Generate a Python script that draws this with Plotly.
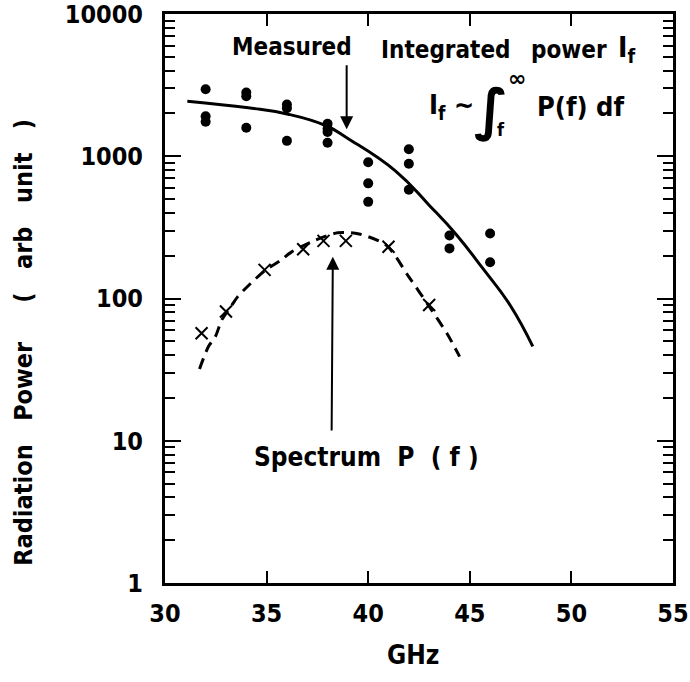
import plotly.graph_objects as go

# ---- data ----
meas_ghz = [32, 32, 32, 34, 34, 34, 36, 36, 36, 38, 38, 38, 38,
            40, 40, 40, 42, 42, 42, 44, 44, 46, 46]
meas_pow = [2960, 1910, 1750, 2810, 2640, 1585, 2310, 2175, 1283, 1690, 1560, 1480, 1244,
            907, 645, 478, 1120, 885, 581, 277, 225, 286, 180]

spec_pts_ghz = [31.8, 33.0, 34.9, 36.8, 37.8, 38.9, 41.0, 43.0]
spec_pts_pow = [57, 81, 159, 222, 254, 254, 231, 90]

integ_curve_ghz = [31.1, 34.1, 36.06, 37.9, 39.0, 41.35, 43.0, 44.33, 45.65, 47.0, 48.1]
integ_curve_pow = [2440, 2190, 1976, 1645, 1333, 787, 453, 282, 162, 89, 46]

spec_curve_ghz = [31.7, 32.14, 32.48, 32.8, 33.25, 33.58, 34.2, 34.94, 35.68, 36.2, 37.2,
                  38.5, 39.55, 40.9, 42.0, 43.0, 43.9, 44.5]
spec_curve_pow = [32, 46, 54, 71, 88, 103, 127, 158, 185, 211, 250,
                  290, 284, 236, 142, 88, 56, 39]

x_ticks = [30, 35, 40, 45, 50, 55]
y_ticks = [1, 10, 100, 1000, 10000]
y_ticktext = ["1", "10", "100", "1000", "10000"]
y_minor = [d * k for d in (1, 10, 100, 1000) for k in range(2, 10)]

FONT = "DejaVu Sans Condensed, DejaVu Sans, sans-serif"

fig = go.Figure()
fig.add_trace(go.Scatter(x=integ_curve_ghz, y=integ_curve_pow, mode="lines",
                         line=dict(color="black", width=3, shape="spline", smoothing=1.3),
                         showlegend=False, hoverinfo="skip"))
fig.add_trace(go.Scatter(x=spec_curve_ghz, y=spec_curve_pow, mode="lines",
                         line=dict(color="black", width=3, shape="spline", smoothing=0.8,
                                   dash="11px,7px"),
                         showlegend=False, hoverinfo="skip"))
fig.add_trace(go.Scatter(x=meas_ghz, y=meas_pow, mode="markers",
                         marker=dict(color="black", size=10, symbol="circle"),
                         showlegend=False))
fig.add_trace(go.Scatter(x=spec_pts_ghz, y=spec_pts_pow, mode="markers",
                         marker=dict(color="black", size=12, symbol="x-thin-open",
                                     line=dict(color="black", width=2)),
                         showlegend=False))
# helper trace for the minor-tick axis
fig.add_trace(go.Scatter(x=[30], y=[1], yaxis="y2", mode="markers",
                         marker=dict(opacity=0), showlegend=False, hoverinfo="skip"))

txt = dict(family=FONT, size=24, color="black", weight="bold")
NB = "&nbsp;"

# arrows (log axis: annotation y in log10 units)
fig.add_annotation(x=38.94, y=3.19, ax=38.94, ay=3.65, xref="x", yref="y",
                   axref="x", ayref="y", showarrow=True, arrowhead=2, arrowsize=1.3,
                   arrowwidth=2, arrowcolor="black", text="")
fig.add_annotation(x=38.26, y=2.294, ax=38.2, ay=1.062, xref="x", yref="y",
                   axref="x", ayref="y", showarrow=True, arrowhead=2, arrowsize=1.3,
                   arrowwidth=2, arrowcolor="black", text="")

fig.add_annotation(x=33.2, y=3.765, xref="x", yref="y", text="Measured",
                   showarrow=False, xanchor="left", yanchor="middle", font=txt)
fig.add_annotation(x=40.55, y=3.75, xref="x", yref="y", text="Integrated",
                   showarrow=False, xanchor="left", yanchor="middle", font=txt)
fig.add_annotation(x=47.9, y=3.75, xref="x", yref="y", text="power",
                   showarrow=False, xanchor="left", yanchor="middle", font=txt)
fig.add_annotation(x=52.2, y=3.75, xref="x", yref="y", text="I<sub>f</sub>",
                   showarrow=False, xanchor="left", yanchor="middle",
                   font=dict(family=FONT, size=28, color="black", weight="bold"))
fig.add_annotation(x=42.9, y=3.35, xref="x", yref="y", text="I<sub>f</sub> ∼",
                   showarrow=False, xanchor="left", yanchor="middle",
                   font=dict(family=FONT, size=27, color="black", weight="bold"))
fig.add_annotation(x=46.04, y=3.33, xref="x", yref="y", text="∫",
                   showarrow=False, xanchor="center", yanchor="middle",
                   font=dict(family="DejaVu Sans", size=56, color="black", weight="bold"))
fig.add_annotation(x=47.3, y=3.55, xref="x", yref="y", text="∞",
                   showarrow=False, xanchor="center", yanchor="middle",
                   font=dict(family="DejaVu Sans", size=22, color="black", weight="bold"))
fig.add_annotation(x=46.55, y=3.185, xref="x", yref="y", text="f",
                   showarrow=False, xanchor="center", yanchor="middle",
                   font=dict(family=FONT, size=18, color="black", weight="bold"))
fig.add_annotation(x=48.2, y=3.35, xref="x", yref="y",
                   text="P(f)" + NB + "df",
                   showarrow=False, xanchor="left", yanchor="middle",
                   font=dict(family=FONT, size=27, color="black", weight="bold"))
fig.add_annotation(x=34.28, y=0.886, xref="x", yref="y",
                   text="Spectrum" + NB * 2 + "P" + NB * 2 + "( f )",
                   showarrow=False, xanchor="left", yanchor="middle",
                   font=dict(family=FONT, size=26, color="black", weight="bold"))

# axis titles as annotations
fig.add_annotation(x=-0.278, y=0.4236, xref="paper", yref="paper",
                   text="Radiation" + NB * 3 + "Power" + NB * 5 + "(" + NB * 3 + "arb"
                        + NB * 3 + "unit" + NB * 3 + ")",
                   textangle=-90, showarrow=False, xanchor="center", yanchor="middle",
                   font=dict(family=FONT, size=25, color="black", weight="bold"))
fig.add_annotation(x=0.488, y=-0.1265, xref="paper", yref="paper", text="GHz",
                   showarrow=False, xanchor="center", yanchor="middle",
                   font=dict(family=FONT, size=26, color="black", weight="bold"))

fig.update_xaxes(range=[30, 55], tickvals=x_ticks, ticks="inside", ticklen=12,
                 tickwidth=2, tickcolor="black", showline=True, linewidth=3,
                 linecolor="black", mirror="ticks", showgrid=False, zeroline=False,
                 automargin=False, ticklabelstandoff=6, ticklabeloverflow="allow",
                 tickfont=dict(family=FONT, size=25, color="black", weight="bold"))
fig.update_layout(
    yaxis=dict(type="log", range=[0, 4], tickvals=y_ticks, ticktext=y_ticktext,
               ticks="inside", ticklen=16, tickwidth=2, tickcolor="black",
               showline=True, linewidth=3, linecolor="black", mirror="ticks",
               showgrid=False, zeroline=False, automargin=False, ticklabelstandoff=14,
               ticklabeloverflow="allow",
               tickfont=dict(family=FONT, size=25, color="black", weight="bold")),
    yaxis2=dict(type="log", range=[0, 4], overlaying="y", anchor="x", side="left",
                tickvals=y_minor, ticks="inside", ticklen=10, tickwidth=2,
                tickcolor="black", showticklabels=False, showline=True, linewidth=3,
                linecolor="black", mirror="ticks", showgrid=False, zeroline=False,
                automargin=False),
)

fig.update_layout(width=690, height=682, plot_bgcolor="white", paper_bgcolor="white",
                  margin=dict(l=165, r=17, t=14, b=99, autoexpand=False), showlegend=False)

fig.write_html("out.html", config={"displayModeBar": False},
               post_script="document.body.style.margin='0px';"
                           "document.documentElement.style.overflow='hidden';")
